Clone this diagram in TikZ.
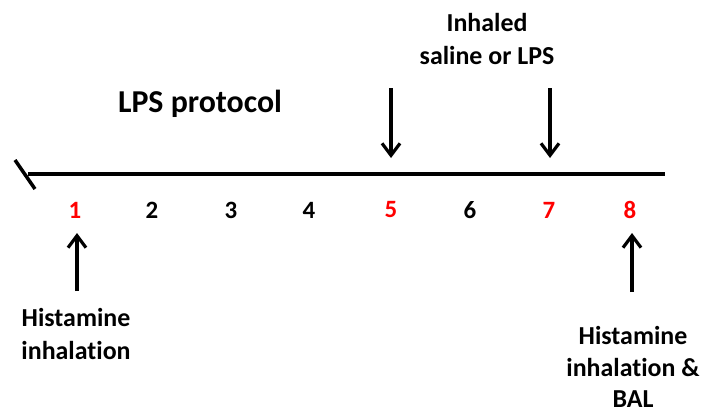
\documentclass[tikz,border=0pt]{standalone}
\usepackage{fontspec}
\setmainfont{Carlito}[Ligatures=CommonOff]
\usetikzlibrary{arrows.meta}
\definecolor{tred}{RGB}{255,0,0}
\begin{document}
\begin{tikzpicture}[x=1bp,y=-1bp,
  lbl/.style={font=\bfseries\fontsize{26}{33}\selectfont, align=center, inner sep=0pt},
  num/.style={font=\bfseries\fontsize{25}{28}\selectfont, inner sep=0pt},
  rednum/.style={num, text=tred},
  arr/.style={line width=3.2bp, -{Straight Barb[length=12bp,width=18bp,line width=3.2bp]}},
  tl/.style={line width=3.5bp}]
\useasboundingbox (0,0) rectangle (710,414);
\coordinate (L) at (28,174);
\coordinate (R) at (665,174);
\coordinate (s1) at (15,160);
\coordinate (s2) at (35,189);
\draw[tl] (L) -- (R);
\draw[tl] (s1) -- (s2);
\node[rednum] (n1) at (75,210) {1};
\node[num] (n2) at (152,210) {2};
\node[num] (n3) at (231,210) {3};
\node[num] (n4) at (309,210) {4};
\node[rednum] (n5) at (391,210) {5};
\node[num] (n6) at (470,210) {6};
\node[rednum] (n7) at (549,210) {7};
\node[rednum] (n8) at (630,210) {8};
\node[lbl, font=\bfseries\fontsize{32}{36}\selectfont] (lps) at (200,104) {LPS protocol};
\node[lbl] (inh) at (487,39) {Inhaled\\saline or LPS};
\node[lbl] (h1) at (76,334) {Histamine\\inhalation};
\node[lbl, font=\bfseries\fontsize{26}{32}\selectfont] (h2) at (633,367) {Histamine\\inhalation \&\\BAL};
\coordinate (a5t) at (391,88);
\coordinate (a5b) at (391,158);
\coordinate (a7t) at (550,88);
\coordinate (a7b) at (550,158);
\coordinate (a1b) at (77,291);
\coordinate (a1t) at (77,233);
\coordinate (a8b) at (632,292);
\coordinate (a8t) at (632,233);
\draw[arr] (a5t) -- (a5b);
\draw[arr] (a7t) -- (a7b);
\draw[arr] (a1b) -- (a1t);
\draw[arr] (a8b) -- (a8t);
\end{tikzpicture}
\end{document}
